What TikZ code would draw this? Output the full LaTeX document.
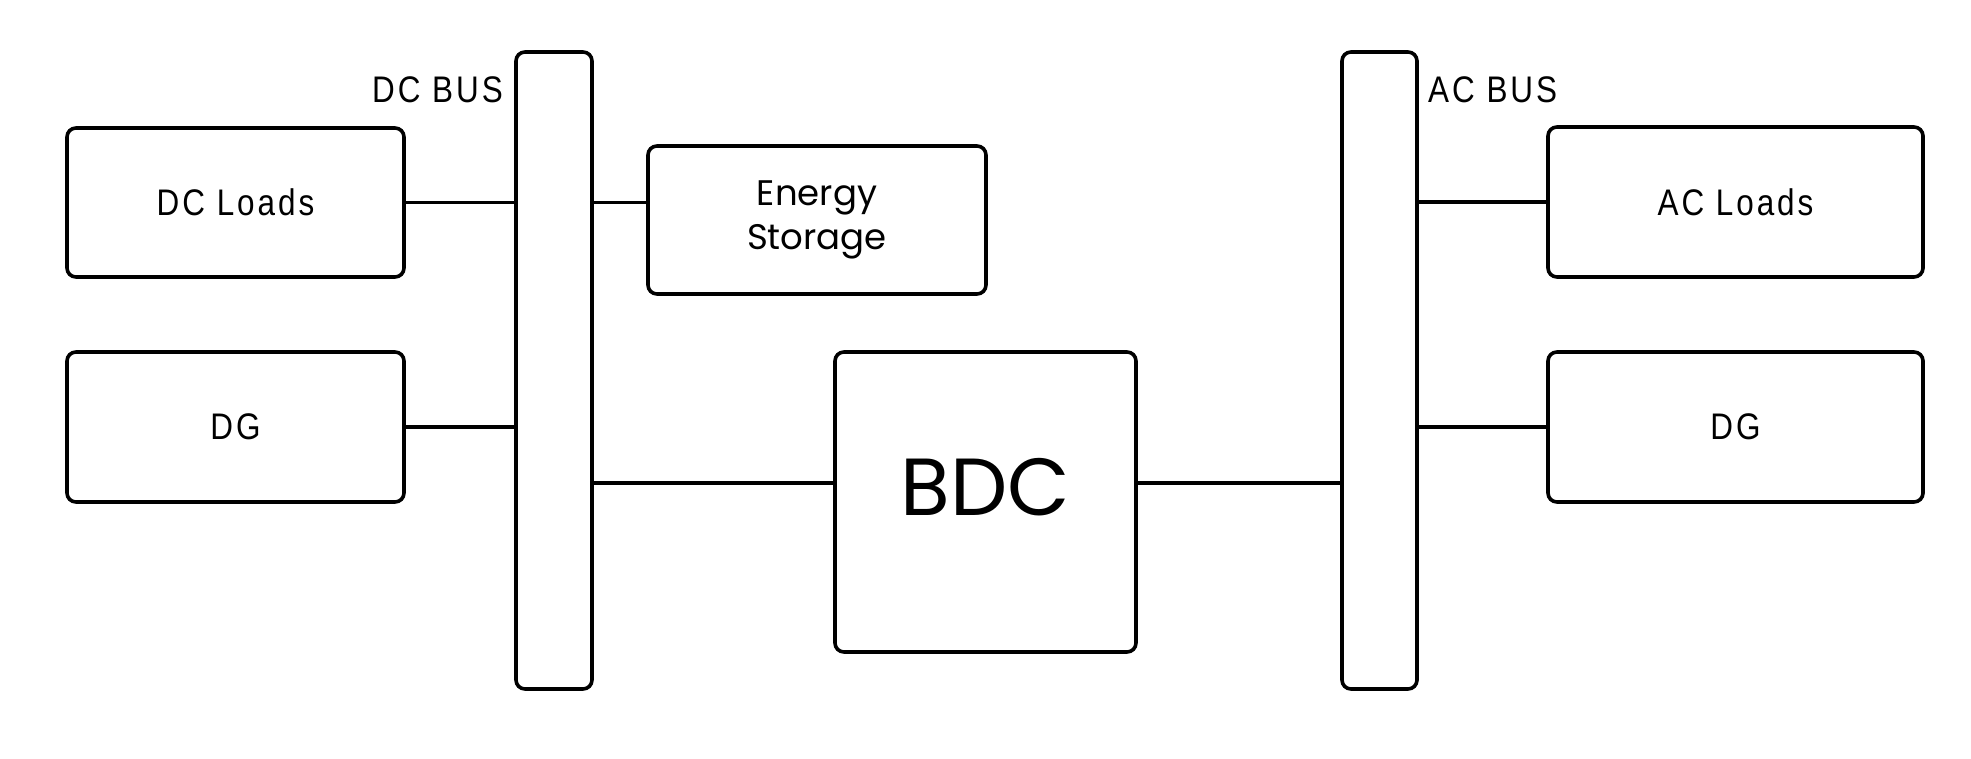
\documentclass[tikz,border=0pt]{standalone}
\usepackage{fontspec}
\setmainfont{Liberation Sans}
\newfontfamily\lblfont[FakeStretch=0.85,LetterSpace=8]{Liberation Sans}
\newfontfamily\popfont{Poppins}
\usetikzlibrary{calc}
\begin{document}
\begin{tikzpicture}[x=1pt,y=-1pt,
  boxst/.style={draw=black, line width=3.6pt, rounded corners=9pt, fill=white, inner sep=0pt},
  lbl/.style={font=\lblfont\fontsize{37}{44}\selectfont, inner sep=0pt},
  pop/.style={font=\popfont\fontsize{35.5}{44}\selectfont, inner sep=0pt, align=center},
  wire/.style={draw=black, line width=3.6pt}]
\useasboundingbox[fill=white] (0,0) rectangle (1971,758);
% buses
\node[boxst, minimum width=76pt, minimum height=637pt] (dcbus) at (554,370.5) {};
\node[boxst, minimum width=75pt, minimum height=637pt] (acbus) at (1379.5,370.5) {};
% DC side
\node[boxst, minimum width=337pt, minimum height=149pt, lbl] (dcload) at (235.5,202.5) {DC Loads};
\node[boxst, minimum width=337pt, minimum height=150pt, lbl] (dcdg) at (235.5,427) {DG};
\node[boxst, minimum width=338pt, minimum height=148pt, pop] (es) at (817,220) {Energy\\Storage};
% converter
\node[boxst, minimum width=301pt, minimum height=300pt, font=\popfont\fontsize{81}{90}\selectfont] (bdc) at (985.5,502) {\raisebox{15pt}[\height][\depth]{BDC}};
% AC side
\node[boxst, minimum width=375pt, minimum height=150pt, lbl] (acload) at (1735.5,202) {AC Loads};
\node[boxst, minimum width=375pt, minimum height=150pt, lbl] (acdg) at (1735.5,427) {DG};
% bus labels
\node[lbl, anchor=base east] (dcbuslbl) at (503,102.3) {DC BUS};
\node[lbl, anchor=base west] (acbuslbl) at (1428,102.3) {AC BUS};
% connectors
\draw[wire] (dcload.east) -- (dcload.east -| dcbus.west);
\draw[wire] (dcdg.east) -- (dcdg.east -| dcbus.west);
\draw[wire] (dcload.east -| dcbus.east) -- (dcload.east -| es.west);
\draw[wire] ([yshift=19pt]bdc.west) -- ([yshift=19pt]bdc.west -| dcbus.east);
\draw[wire] ([yshift=19pt]bdc.east) -- ([yshift=19pt]bdc.east -| acbus.west);
\draw[wire] (acload.west) -- (acload.west -| acbus.east);
\draw[wire] (acdg.west) -- (acdg.west -| acbus.east);
\end{tikzpicture}
\end{document}
